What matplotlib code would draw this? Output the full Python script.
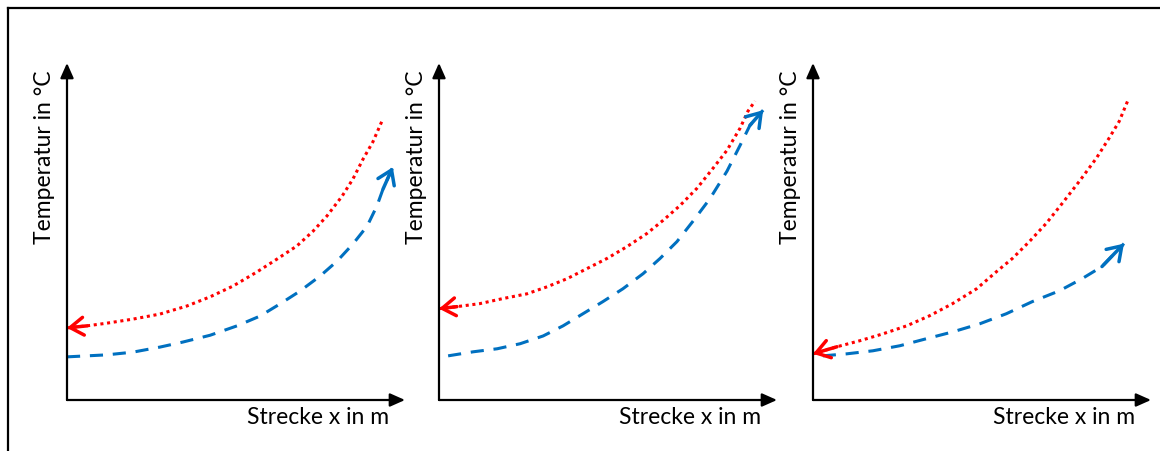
import matplotlib
matplotlib.use("Agg")
import matplotlib.pyplot as plt
from matplotlib.lines import Line2D

# Temperature profiles along the section (x in arbitrary length units 0..10,
# temperature in arbitrary units 0..10). Red = hot stream (flows right-to-left),
# blue = cold stream (flows left-to-right).
hot_x_1 = [0.0, 0.59, 1.18, 1.95, 2.75, 3.55, 4.23, 4.91, 5.62, 6.21, 6.80, 7.28,
           7.69, 8.14, 8.46, 8.76, 9.05, 9.32]
hot_y_1 = [2.14, 2.20, 2.28, 2.40, 2.55, 2.79, 3.06, 3.38, 3.80, 4.18, 4.57, 5.01,
           5.46, 6.05, 6.56, 7.15, 7.66, 8.28]
cold_x_1 = [0.0, 1.18, 1.95, 2.75, 3.43, 4.23, 5.03, 5.71, 6.30, 6.89, 7.49, 7.99,
            8.46, 8.88, 9.17, 9.35, 9.64]
cold_y_1 = [1.28, 1.34, 1.42, 1.57, 1.72, 1.92, 2.20, 2.49, 2.85, 3.23, 3.68, 4.12,
            4.63, 5.16, 5.76, 6.26, 6.91]

hot_x_2 = [0.0, 0.53, 1.21, 1.89, 2.60, 3.20, 3.79, 4.38, 4.97, 5.56, 6.15, 6.63,
           7.13, 7.63, 8.11, 8.52, 8.91, 9.14, 9.35]
hot_y_2 = [2.71, 2.77, 2.86, 3.01, 3.15, 3.36, 3.60, 3.90, 4.20, 4.55, 4.94, 5.33,
           5.77, 6.28, 6.88, 7.41, 8.07, 8.57, 8.87]
cold_x_2 = [0.27, 1.01, 1.72, 2.40, 3.08, 3.67, 4.26, 4.85, 5.44, 6.04, 6.54, 7.04,
            7.51, 8.02, 8.52, 8.91, 9.20, 9.59]
cold_y_2 = [1.31, 1.43, 1.52, 1.67, 1.90, 2.20, 2.56, 2.92, 3.30, 3.75, 4.20, 4.70,
            5.30, 5.98, 6.79, 7.56, 8.15, 8.60]

hot_x_3 = [0.0, 0.71, 1.39, 2.06, 2.77, 3.45, 4.13, 4.84, 5.43, 5.90, 6.40, 6.90,
           7.37, 7.88, 8.38, 8.76, 9.06, 9.32]
hot_y_3 = [1.37, 1.58, 1.76, 1.96, 2.20, 2.50, 2.86, 3.30, 3.81, 4.20, 4.70, 5.24,
           5.83, 6.49, 7.17, 7.77, 8.27, 8.90]
cold_x_3 = [0.29, 1.00, 1.77, 2.57, 3.36, 4.13, 4.93, 5.72, 6.49, 7.29, 7.96, 8.55, 9.20]
cold_y_3 = [1.31, 1.37, 1.46, 1.61, 1.82, 2.02, 2.26, 2.56, 2.92, 3.24, 3.60, 3.96, 4.64]

panels = [
    (hot_x_1, hot_y_1, cold_x_1, cold_y_1),
    (hot_x_2, hot_y_2, cold_x_2, cold_y_2),
    (hot_x_3, hot_y_3, cold_x_3, cold_y_3),
]

y_label = "Temperatur in °C"
x_label = "Strecke x in m"

RED = "#ff0000"
BLUE = "#0070c0"

W, H = 1160, 452
fig = plt.figure(figsize=(W / 100, H / 100), dpi=100)

# outer frame (top and left edges)
fig.add_artist(Line2D([8 / W, 1.0], [1 - 9 / H, 1 - 9 / H], color="black", lw=1.6,
                      transform=fig.transFigure))
fig.add_artist(Line2D([8 / W, 8 / W], [0.0, 1 - 9 / H], color="black", lw=1.6,
                      transform=fig.transFigure))

lefts = [67, 439, 813]
aw, ah = 338, 337
base = 401

font = dict(family=["Lato", "DejaVu Sans"], size=16.5, color="black")


def head(ax, tip, prev, color):
    ax.annotate("", xy=tip, xytext=prev, xycoords="data", textcoords="data",
                arrowprops=dict(arrowstyle="->,head_length=0.48,head_width=0.32",
                                color=color, lw=2.5, mutation_scale=20,
                                shrinkA=0, shrinkB=0),
                annotation_clip=False)


for left, (hx, hy, cx, cy) in zip(lefts, panels):
    ax = fig.add_axes([left / W, (H - base) / H, aw / W, ah / H])
    ax.set_xlim(0, 10)
    ax.set_ylim(0, 10)
    ax.axis("off")

    # coordinate axes with arrow tips
    for end in [(10, 0), (0, 10)]:
        ax.annotate("", xy=end, xytext=(0, 0),
                    arrowprops=dict(arrowstyle="-|>,head_length=0.45,head_width=0.2",
                                    color="black", lw=1.6, mutation_scale=20,
                                    shrinkA=0, shrinkB=0),
                    annotation_clip=False)

    ax.plot(hx, hy, color=RED, lw=2.2, linestyle=(0, (1, 1.2)),
            solid_joinstyle="round", clip_on=False)
    ax.plot(cx, cy, color=BLUE, lw=2.2, linestyle=(0, (4.3, 3.2)),
            clip_on=False)

    # flow direction: hot stream enters on the right, cold on the left
    head(ax, (hx[0], hy[0]), (hx[1], hy[1]), RED)
    head(ax, (cx[-1], cy[-1]), (cx[-2], cy[-2]), BLUE)

    ax.text(-0.068, 0.982, y_label, transform=ax.transAxes, rotation=90,
            ha="center", va="top", **font)
    ax.text(0.953, -0.05, x_label, transform=ax.transAxes,
            ha="right", va="center", **font)

fig.savefig("out.png", dpi=100)
